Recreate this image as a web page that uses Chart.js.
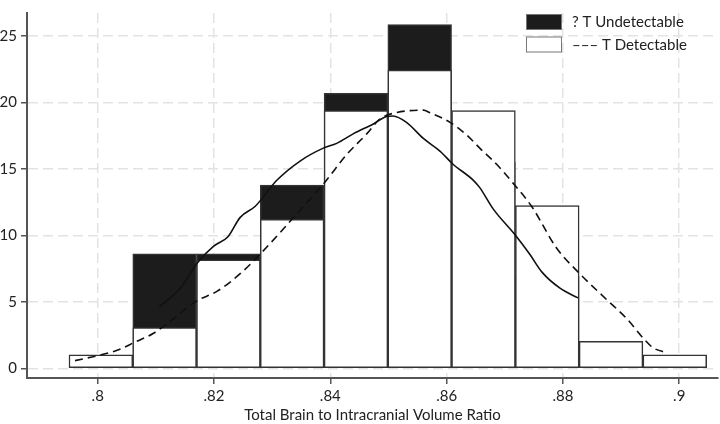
<!DOCTYPE html>
<html>
<head>
<meta charset="utf-8">
<script src="https://cdn.jsdelivr.net/npm/chart.js@4.4.0/dist/chart.umd.min.js"></script>
<style>
  html, body { margin: 0; padding: 0; background: #fff; }
  #wrap { width: 720px; height: 424px; }
</style>
</head>
<body>
<div id="wrap"><canvas id="histChart"></canvas></div>
<script>
// histogram bins (centres of the bins on the ratio axis)
const binCenters = [0.80054, 0.81151, 0.82248, 0.83344, 0.84441, 0.85537, 0.86634, 0.87731, 0.88827, 0.89924];
const detectablePct = [1.02, 3.06, 8.16, 11.22, 19.39, 22.45, 19.39, 12.24, 2.04, 1.02];
const undetectablePct = [null, 8.62, 8.62, 13.79, 20.69, 25.86, 15.5, 6.9, null, null];

// kernel density curves
const undetX = [0.8106, 0.8142, 0.8172, 0.8199, 0.8224, 0.8245, 0.8271, 0.8308, 0.8348, 0.8388, 0.8411, 0.844, 0.8474, 0.8497, 0.8508, 0.8531, 0.856, 0.8589, 0.8611, 0.8646, 0.8657, 0.868, 0.8718, 0.8743, 0.8764, 0.8795, 0.8826];
const undetY = [4.63, 6.03, 7.97, 9.18, 9.9, 11.36, 12.2, 14.15, 15.6, 16.57, 16.93, 17.66, 18.39, 18.95, 18.99, 18.51, 17.3, 16.33, 15.36, 14.15, 13.6, 12.0, 10.03, 8.58, 7.24, 6.03, 5.3];
const detX = [0.7961, 0.8004, 0.8038, 0.8061, 0.8096, 0.813, 0.817, 0.8205, 0.8245, 0.8279, 0.8354, 0.8391, 0.8428, 0.8463, 0.8485, 0.8508, 0.856, 0.8571, 0.8606, 0.8635, 0.8657, 0.8686, 0.8715, 0.8746, 0.8789, 0.8829, 0.8875, 0.891, 0.8938, 0.8955, 0.8978];
const detY = [0.58, 1.0, 1.43, 1.91, 2.64, 3.73, 5.07, 5.79, 7.12, 8.58, 12.2, 14.03, 16.08, 17.66, 18.75, 19.19, 19.43, 19.24, 18.51, 17.54, 16.57, 15.36, 13.9, 12.2, 9.06, 7.12, 5.18, 3.73, 2.27, 1.55, 1.18];

const xTicks = [0.8, 0.82, 0.84, 0.86, 0.88, 0.9];
const xTickLabels = [".8", ".82", ".84", ".86", ".88", ".9"];
const yTicks = [0, 5, 10, 15, 20, 25];
const seriesNames = ["? T Undetectable", "––– T Detectable"];

const FONT = "Lato, 'Liberation Sans', sans-serif";
Chart.defaults.font.family = FONT;
Chart.defaults.font.size = 14;
Chart.defaults.color = "#222";

const toPoints = (xs, ys) => xs.map((x, i) => ({ x: x, y: ys[i] }));

const boxLegend = {
  id: "boxLegend",
  afterDraw(chart) {
    const ctx = chart.ctx;
    const fills = ["#1c1c1c", "#ffffff"];
    ctx.save();
    seriesNames.forEach((name, i) => {
      const top = 14 + i * 22.5;
      ctx.fillStyle = fills[i];
      ctx.fillRect(526, top, 36, 16);
      ctx.strokeStyle = "#777";
      ctx.lineWidth = 1;
      ctx.strokeRect(526.5, top + 0.5, 35, 15);
      ctx.fillStyle = "#222";
      ctx.font = "15px " + FONT;
      ctx.textBaseline = "middle";
      ctx.fillText(name, 572, top + 8.5);
    });
    ctx.restore();
  }
};

const gridOpts = { color: "#e3e3e3", lineWidth: 1.5, tickLength: 6, tickColor: "#555", tickWidth: 1.5, offset: false };
const borderOpts = { color: "#555", width: 2, dash: [10, 5] };

new Chart(document.getElementById("histChart"), {
  type: "bar",
  data: {
    datasets: [
      {
        type: "line",
        data: toPoints(undetX, undetY),
        borderColor: "#111",
        borderWidth: 1.6,
        pointRadius: 0,
        cubicInterpolationMode: "monotone"
      },
      {
        type: "line",
        data: toPoints(detX, detY),
        borderColor: "#111",
        borderWidth: 1.6,
        borderDash: [8, 5],
        pointRadius: 0,
        cubicInterpolationMode: "monotone"
      },
      {
        label: "T Detectable",
        data: toPoints(binCenters, detectablePct),
        backgroundColor: "#ffffff",
        borderColor: "#333",
        borderWidth: 1.5,
        borderSkipped: false,
        grouped: false,
        barPercentage: 1,
        categoryPercentage: 1
      },
      {
        label: "T Undetectable",
        data: toPoints(binCenters, undetectablePct),
        backgroundColor: "#1c1c1c",
        borderColor: "#333",
        borderWidth: 1.5,
        borderSkipped: false,
        grouped: false,
        barPercentage: 1,
        categoryPercentage: 1
      }
    ]
  },
  options: {
    responsive: true,
    maintainAspectRatio: false,
    animation: false,
    layout: { padding: { left: 0, right: 2, top: 0, bottom: 0 } },
    plugins: {
      legend: { display: false },
      tooltip: { enabled: false }
    },
    scales: {
      x: {
        type: "linear",
        min: 0.78784,
        max: 0.90667,
        offset: false,
        afterBuildTicks: s => { s.ticks = xTicks.map(v => ({ value: v })); },
        afterFit: s => { s.height = 46; },
        grid: gridOpts,
        border: borderOpts,
        ticks: { padding: 3, font: { size: 15 }, callback: (v, i) => xTickLabels[i] },
        title: {
          display: true,
          text: "Total Brain to Intracranial Volume Ratio",
          font: { size: 15 },
          padding: { top: 0, bottom: 0 }
        }
      },
      y: {
        min: -0.727,
        max: 26.74,
        afterBuildTicks: s => { s.ticks = yTicks.map(v => ({ value: v })); },
        afterFit: s => { s.width = 27; },
        grid: gridOpts,
        border: borderOpts,
        ticks: { padding: 4, font: { size: 15 } }
      }
    }
  },
  plugins: [boxLegend]
});
</script>
</body>
</html>
